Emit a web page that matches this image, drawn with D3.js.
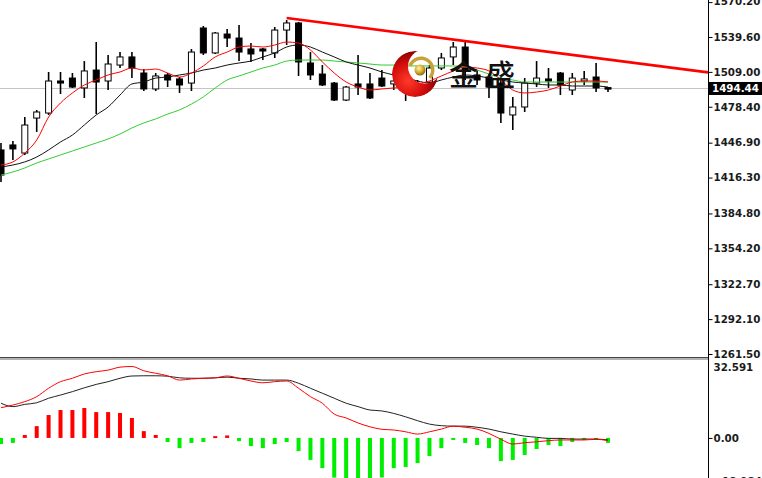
<!DOCTYPE html>
<html><head><meta charset="utf-8">
<script src="https://cdn.jsdelivr.net/npm/d3@7"></script>
<style>body{margin:0;background:#fff;overflow:hidden}svg{display:block}</style>
</head><body>
<svg id="c" width="762" height="478"></svg>
<script>
// ---- candles (price) ----
const opens  = [1440.5,1444.9,1437.8,1468.5,1472.9,1501.0,1503.6,1494.9,1510.6,1501.0,1515.0,1522.1,1508.0,1494.0,1506.3,1502.8,1499.2,1547.5,1525.6,1542.2,1538.7,1529.1,1529.1,1525.6,1545.7,1551.9,1516.8,1507.1,1499.2,1484.3,1498.4,1498.4,1503.6,1498.4,1497.5,1493.1,1500.1,1512.4,1522.1,1530.8,1506.3,1504.5,1499.2,1471.2,1478.2,1499.2,1502.8,1508.0,1493.1,1501.0,1504.5,1495.2];
const highs  = [1446.6,1448.4,1469.4,1475.6,1508.9,1508.9,1508.0,1518.5,1535.2,1523.8,1526.4,1526.4,1511.5,1508.0,1508.0,1504.5,1529.1,1549.3,1544.0,1546.6,1550.1,1534.3,1529.9,1548.4,1554.5,1552.8,1526.4,1515.0,1500.1,1496.6,1523.8,1508.0,1510.6,1503.6,1501.9,1501.9,1515.0,1525.6,1535.2,1535.2,1510.6,1507.1,1504.5,1487.0,1503.6,1518.5,1512.4,1508.9,1508.0,1509.8,1516.8,1495.7];
const lows   = [1412.4,1431.7,1436.1,1456.3,1471.2,1489.6,1494.9,1486.1,1472.0,1493.1,1512.4,1503.6,1492.2,1492.2,1495.7,1490.5,1492.2,1523.8,1524.7,1530.8,1518.5,1517.7,1519.4,1521.2,1532.6,1505.4,1501.9,1496.6,1483.5,1483.5,1488.7,1485.2,1495.7,1493.1,1483.5,1488.7,1496.6,1510.6,1515.0,1501.9,1497.5,1486.1,1464.2,1458.0,1473.8,1495.7,1494.9,1488.7,1488.7,1497.5,1491.3,1491.3];
const closes = [1418.5,1441.4,1462.4,1473.8,1501.0,1499.2,1495.7,1509.8,1500.1,1515.9,1522.1,1512.4,1494.0,1505.4,1501.9,1497.5,1526.4,1525.6,1543.1,1538.7,1526.4,1524.7,1527.3,1545.7,1551.9,1517.7,1506.3,1497.5,1484.3,1495.7,1495.7,1486.1,1496.6,1501.0,1493.1,1498.4,1512.4,1521.2,1530.8,1510.6,1501.9,1495.7,1472.9,1478.2,1499.2,1503.6,1501.0,1497.5,1503.6,1502.8,1494.9,1494.44];

// ---- moving averages (price) ----
const maFast = [1427.3,1430.0,1437.8,1449.2,1469.4,1481.7,1490.5,1497.5,1501.9,1506.3,1508.9,1512.4,1510.6,1511.5,1508.0,1504.5,1508.0,1514.2,1522.1,1526.4,1530.8,1531.7,1530.8,1532.6,1535.2,1534.3,1528.2,1517.7,1508.0,1500.1,1495.7,1493.1,1494.0,1494.9,1495.7,1498.4,1501.0,1505.4,1509.8,1513.3,1512.4,1509.8,1501.9,1493.1,1490.5,1491.3,1493.1,1496.6,1500.1,1501.0,1501.0,1500.1];
const maMid  = [1425.6,1427.3,1430.0,1434.3,1440.5,1447.5,1453.6,1462.4,1471.2,1478.2,1488.7,1498.4,1500.1,1503.6,1504.5,1506.3,1508.0,1510.6,1512.4,1515.0,1516.8,1518.5,1522.1,1525.6,1530.8,1532.6,1530.8,1526.4,1522.1,1517.7,1515.0,1512.4,1508.9,1506.3,1503.6,1501.0,1499.2,1501.9,1504.5,1506.3,1505.4,1503.6,1501.9,1500.1,1499.2,1498.4,1497.5,1497.5,1496.6,1496.6,1496.6,1495.7];
const maSlow = [1418.5,1421.2,1424.7,1429.1,1432.6,1436.1,1439.6,1443.1,1446.6,1450.1,1454.5,1459.8,1464.2,1467.7,1472.0,1475.6,1480.8,1487.0,1494.9,1501.9,1505.4,1508.9,1512.4,1515.0,1518.5,1519.4,1519.4,1519.4,1518.5,1517.7,1516.8,1515.9,1515.0,1515.0,1514.2,1514.2,1514.2,1514.2,1514.2,1513.3,1510.6,1507.1,1503.6,1501.9,1500.1,1500.1,1500.1,1500.1,1500.1,1500.1,1500.1,1500.1];

// ---- MACD ----
const macdHist   = [-2.7,-2.2,1.3,5.2,10.1,12.3,12.3,13.2,11.4,11.4,11.0,8.8,3.0,1.3,-1.8,-4.5,-2.2,-1.8,0.8,1.1,-1.4,-3.6,-4.5,-2.7,-1.8,-5.8,-9.7,-13.3,-17.5,-18.98,-18.6,-18.2,-17.4,-13.3,-12.8,-11.1,-8.0,-4.5,-0.9,-2.2,-3.1,-4.5,-10.2,-9.7,-7.5,-4.9,-3.1,-3.6,-1.8,-0.9,-0.9,-2.2];
const macdFast   = [13.3,14.5,16.0,18.2,21.9,24.8,26.3,28.2,29.2,29.9,31.2,31.5,29.6,28.5,27.4,25.5,26.0,26.3,26.5,27.3,26.3,25.1,24.3,24.8,25.1,21.9,18.2,15.3,10.5,8.8,6.6,4.9,3.8,3.5,2.7,1.7,2.7,3.9,5.2,4.7,3.9,2.0,-0.6,-2.7,-2.1,-1.7,-1.2,-0.9,-0.9,-0.9,-0.6,-1.2];
const macdSignal = [15.3,13.8,14.8,15.5,17.5,18.9,20.4,22.1,23.6,24.8,26.3,27.3,27.4,27.4,27.2,26.5,26.3,26.3,26.5,26.8,26.3,26.0,25.5,25.5,25.5,24.1,21.9,19.7,17.5,15.3,13.8,12.3,11.9,10.8,9.3,7.6,6.1,5.4,5.2,5.2,4.7,3.9,2.7,1.7,0.8,0.3,-0.2,-0.2,-0.5,-0.5,-0.5,-0.9];

// ---- axis labels / misc ----
const priceTicks = [1570.20,1539.60,1509.00,1478.40,1446.90,1416.30,1384.80,1354.20,1322.70,1292.10,1261.50];
const macdTicks = [32.591, 0, -18.984];
const lastPrice = 1494.44;
const trendIdx = [24, 59.4];
const trendPrice = [1556.2, 1508.6];
const logoText = ["金", "盛"];

const svg = d3.select('#c');
const W = 762, H = 478, axisX = 708, sepY = 357;

const x = d3.scaleLinear().domain([0, 51]).range([1, 608]);
const y = d3.scaleLinear().domain([1261.5, 1539.6]).range([354, 37]);
const ym = d3.scaleLinear().domain([-18.984, 32.591]).range([481, 364]);
const idx = d3.range(opens.length);

const defs = svg.append('defs');
defs.append('clipPath').attr('id','clipMain').append('rect').attr('x',0).attr('y',0).attr('width',axisX).attr('height',sepY);
defs.append('clipPath').attr('id','clipMacd').append('rect').attr('x',0).attr('y',sepY+3).attr('width',axisX).attr('height',H-sepY-3);

svg.append('rect').attr('width',W).attr('height',H).attr('fill','#fff');

// current price line
const gMain = svg.append('g').attr('clip-path','url(#clipMain)');
gMain.append('line').attr('x1',0).attr('x2',axisX).attr('y1',y(lastPrice)).attr('y2',y(lastPrice))
  .attr('stroke','#c4c4c4').attr('stroke-width',1);

// candles
gMain.selectAll('line.wick').data(idx).join('line').attr('class','wick')
  .attr('x1',i=>x(i)).attr('x2',i=>x(i))
  .attr('y1',i=>y(highs[i])).attr('y2',i=>y(lows[i]))
  .attr('stroke','#000').attr('stroke-width',1.6);
gMain.selectAll('rect.body').data(idx).join('rect').attr('class','body')
  .attr('x',i=>x(i)-3).attr('width',6)
  .attr('y',i=>y(Math.max(opens[i],closes[i])))
  .attr('height',i=>Math.max(1.5, Math.abs(y(opens[i])-y(closes[i]))))
  .attr('fill',i=>closes[i]>=opens[i]?'#fff':'#000')
  .attr('stroke','#000').attr('stroke-width',1);

// moving averages
const lineP = arr => d3.line().x((d,i)=>x(i)).y(d=>y(d)).curve(d3.curveMonotoneX)(arr);
gMain.append('path').attr('d',lineP(maSlow)).attr('fill','none').attr('stroke','#33cc33').attr('stroke-width',1);
gMain.append('path').attr('d',lineP(maMid)).attr('fill','none').attr('stroke','#111').attr('stroke-width',1);
gMain.append('path').attr('d',lineP(maFast)).attr('fill','none').attr('stroke','#ff0000').attr('stroke-width',1);

// trend line
gMain.append('line')
  .attr('x1',x(trendIdx[0])).attr('y1',y(trendPrice[0]))
  .attr('x2',x(trendIdx[1])).attr('y2',y(trendPrice[1]))
  .attr('stroke','#ff0000').attr('stroke-width',2.6);

// logo
const rg = defs.append('radialGradient').attr('id','redG').attr('cx','35%').attr('cy','65%').attr('r','70%');
rg.append('stop').attr('offset','0%').attr('stop-color','#ff3a2a');
rg.append('stop').attr('offset','55%').attr('stop-color','#d40c0c');
rg.append('stop').attr('offset','100%').attr('stop-color','#7a0000');
const gg = defs.append('radialGradient').attr('id','goldG').attr('cx','40%').attr('cy','35%').attr('r','65%');
gg.append('stop').attr('offset','0%').attr('stop-color','#fff2a0');
gg.append('stop').attr('offset','60%').attr('stop-color','#d4aa30');
gg.append('stop').attr('offset','100%').attr('stop-color','#8a6a10');
const mask = defs.append('mask').attr('id','cres');
mask.append('rect').attr('x',0).attr('y',0).attr('width',W).attr('height',H).attr('fill','#000');
mask.append('circle').attr('cx',415).attr('cy',74).attr('r',23).attr('fill','#fff');
mask.append('circle').attr('cx',425).attr('cy',66.5).attr('r',17).attr('fill','#000');
const gLogo = svg.append('g');
gLogo.append('circle').attr('cx',415).attr('cy',74).attr('r',23).attr('fill','url(#redG)').attr('mask','url(#cres)');
gLogo.append('path').attr('transform','translate(421,70)')
  .attr('d', d3.arc().innerRadius(10).outerRadius(13.5).startAngle(-1.2).endAngle(2.3)())
  .attr('fill','#c9a237');
gLogo.append('circle').attr('cx',420).attr('cy',70).attr('r',5.5).attr('fill','url(#goldG)');
gLogo.selectAll('text').data(logoText).join('text')
  .attr('x',(d,i)=>449 + i*37).attr('y',86)
  .attr('font-family','"Noto Sans CJK SC","Noto Sans CJK JP",sans-serif')
  .attr('font-size',29).attr('font-weight',500).attr('fill','#111').text(d=>d);

// MACD panel
const gM = svg.append('g').attr('clip-path','url(#clipMacd)');
gM.selectAll('rect.h').data(idx).join('rect').attr('class','h')
  .attr('x',i=>x(i)-2).attr('width',4)
  .attr('y',i=>Math.min(ym(0), ym(macdHist[i])))
  .attr('height',i=>Math.max(2, Math.abs(ym(macdHist[i])-ym(0))))
  .attr('fill',i=>macdHist[i]>=0?'#ff0000':'#00ee00');
const lineM = arr => d3.line().x((d,i)=>x(i)).y(d=>ym(d)).curve(d3.curveMonotoneX)(arr);
gM.append('path').attr('d',lineM(macdSignal)).attr('fill','none').attr('stroke','#222').attr('stroke-width',1);
gM.append('path').attr('d',lineM(macdFast)).attr('fill','none').attr('stroke','#ff0000').attr('stroke-width',1);

// separator
svg.append('line').attr('x1',0).attr('x2',axisX).attr('y1',sepY+0.5).attr('y2',sepY+0.5).attr('stroke','#444');
svg.append('line').attr('x1',0).attr('x2',axisX).attr('y1',sepY+2).attr('y2',sepY+2).attr('stroke','#999').attr('stroke-width',1.5);

// right axes
svg.append('line').attr('x1',axisX+0.5).attr('x2',axisX+0.5).attr('y1',0).attr('y2',H).attr('stroke','#000');
const fontFam = '"DejaVu Sans", Verdana, sans-serif';
const axP = svg.append('g').attr('transform',`translate(${axisX+0.5},0)`)
  .call(d3.axisRight(y).tickValues(priceTicks).tickSize(4).tickPadding(1).tickFormat(d3.format('.2f')));
axP.select('.domain').remove();
axP.selectAll('text').attr('font-family',fontFam).attr('font-size',10.3).attr('font-weight',600).attr('fill','#1a1a1a');
axP.selectAll('line').attr('stroke','#000');
axP.selectAll('.tick').filter(d=>d===priceTicks[0]).select('text').attr('dy','0.2em');

const axM = svg.append('g').attr('transform',`translate(${axisX+0.5},0)`)
  .call(d3.axisRight(ym).tickValues(macdTicks).tickSize(4).tickPadding(1)
    .tickFormat(d=> d===0 ? '0.00' : d3.format('.3f')(d)));
axM.select('.domain').remove();
axM.selectAll('text').attr('font-family',fontFam).attr('font-size',10.3).attr('font-weight',600).attr('fill','#1a1a1a');
axM.selectAll('line').attr('stroke','#000');
axM.selectAll('.tick').filter(d=>d===macdTicks[0]).select('text').attr('dy','0.85em').attr('y',-2);
axM.selectAll('.tick').filter(d=>d===macdTicks[0]).select('line').remove();

// last price marker
const lp = svg.append('g');
lp.append('rect').attr('x',axisX+1).attr('y',y(lastPrice)-6.5).attr('width',W-axisX).attr('height',13).attr('fill','#000');
lp.append('text').attr('x',axisX+4).attr('y',y(lastPrice)).attr('dy','0.35em')
  .attr('font-family',fontFam).attr('font-size',10.3).attr('font-weight',600).attr('fill','#fff').text(d3.format('.2f')(lastPrice));
</script>
</body></html>
